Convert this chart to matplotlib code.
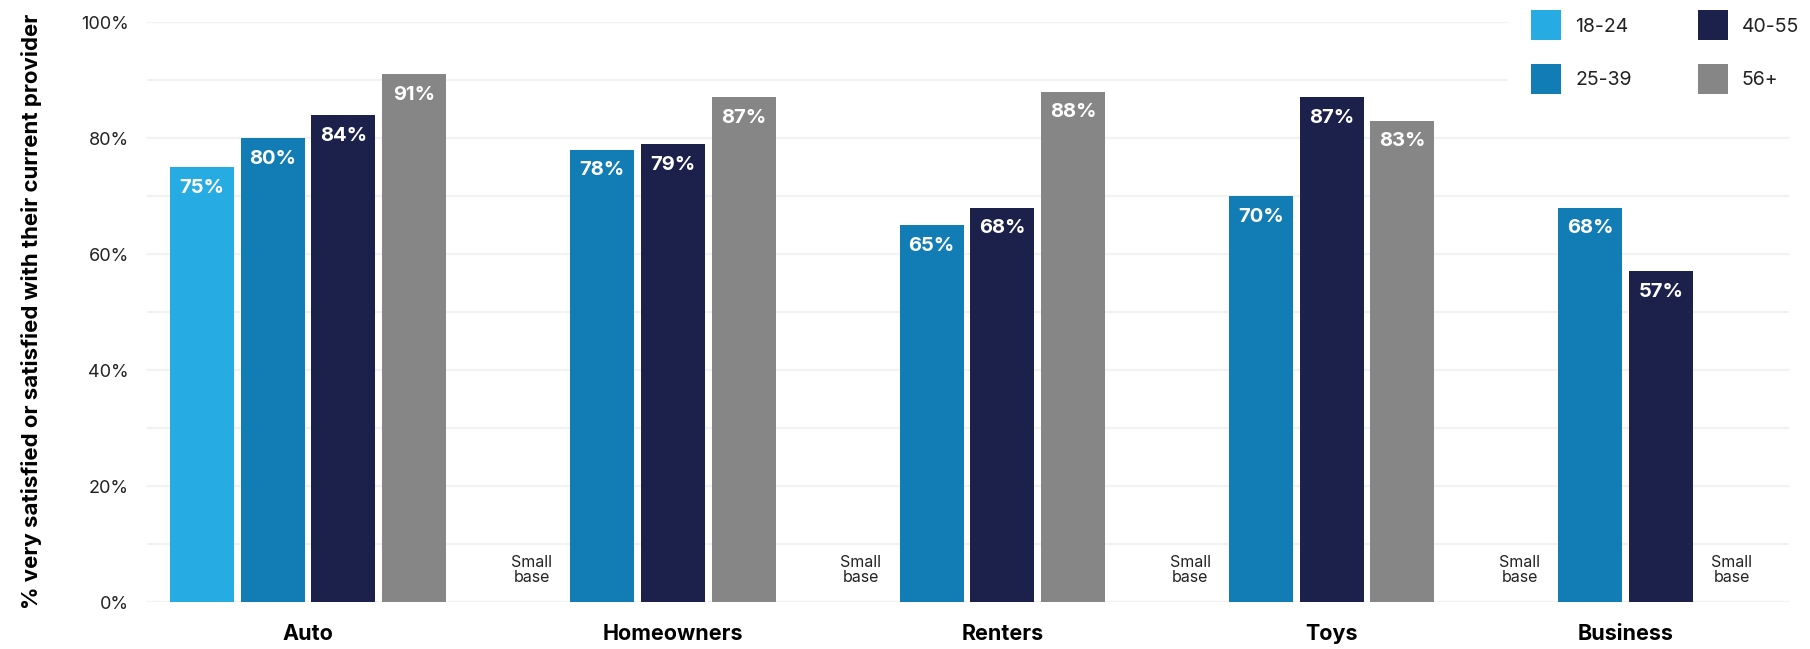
import numpy as np
import matplotlib
matplotlib.use("Agg")
import matplotlib.pyplot as plt

plt.rcParams['font.family'] = ['Inter', 'DejaVu Sans']

# data
categories = ['Auto', 'Homeowners', 'Renters', 'Toys', 'Business']
series = ['18-24', '25-39', '40-55', '56+']
values = {
    '18-24': [75, None, None, None, None],
    '25-39': [80, 78, 65, 70, 68],
    '40-55': [84, 79, 68, 87, 57],
    '56+':   [91, 87, 88, 83, None],
}
colors = ['#26abe2', '#127db5', '#1b214b', '#868686']
y_ticks = [0, 20, 40, 60, 80, 100]
y_label = '% very satisfied or satisfied with their current provider'
missing_text = 'Small\nbase'

fig = plt.figure(figsize=(18.10, 6.49), dpi=100)
ax = fig.add_axes([0.0812, 0.0724, 0.9072, 0.8937])

group_step = 4.66
bar_w = 0.905

present = {i: [] for i in range(len(categories))}
for s, name in enumerate(series):
    xs = np.arange(len(categories)) * group_step + s
    for g, v in enumerate(values[name]):
        if v is None:
            ax.text(xs[g], 5.5, missing_text, ha='center', va='center',
                    fontsize=11.5, color='#222222', linespacing=0.95)
            continue
        present[g].append(xs[g])
    vals = [np.nan if v is None else v for v in values[name]]
    bars = ax.bar(xs, vals, width=bar_w, color=colors[s], label=name, zorder=3)
    for b, v in zip(bars, values[name]):
        if v is None:
            continue
        ax.annotate(f'{v}%', (b.get_x() + b.get_width() / 2, v),
                    xytext=(0, -15), textcoords='offset points',
                    ha='center', va='center', color='white',
                    fontsize=14.5, fontweight='bold', zorder=4)

# category labels centred on the bars that are shown
ax.set_xticks([np.mean(present[g]) for g in range(len(categories))])
ax.set_xticklabels(categories, fontsize=15.5, fontweight='bold', color='black')
ax.tick_params(axis='x', length=0, pad=16)

ax.set_ylim(0, 100)
ax.set_xlim(-0.78, 22.45)
ax.set_yticks(y_ticks)
ax.set_yticklabels([f'{t}%' for t in y_ticks], fontsize=13, color='#222222')
ax.set_yticks(range(10, 100, 20), minor=True)
ax.tick_params(axis='y', which='both', length=0, pad=13)
ax.grid(axis='y', which='both', color='#f2f2f2', linewidth=1.6, zorder=0)
ax.set_axisbelow(True)
for sp in ax.spines.values():
    sp.set_visible(False)

fig.text(32 / 1810, 0.52, y_label, rotation=90, ha='center', va='center',
         fontsize=16, fontweight='bold', color='black')

leg = ax.legend(ncol=2, loc='upper left', bbox_to_anchor=(0.8331, 1.02),
                bbox_transform=fig.transFigure, fontsize=14, frameon=True,
                handlelength=1.543, handleheight=2.0, handletextpad=0.72,
                labelspacing=1.19, columnspacing=3.4, borderpad=1.2,
                borderaxespad=0)
leg.get_frame().set_facecolor('white')
leg.get_frame().set_edgecolor('none')
leg.get_frame().set_alpha(1)
for t in leg.get_texts():
    t.set_color('#222222')

fig.savefig('out.png', dpi=100, facecolor='white')
